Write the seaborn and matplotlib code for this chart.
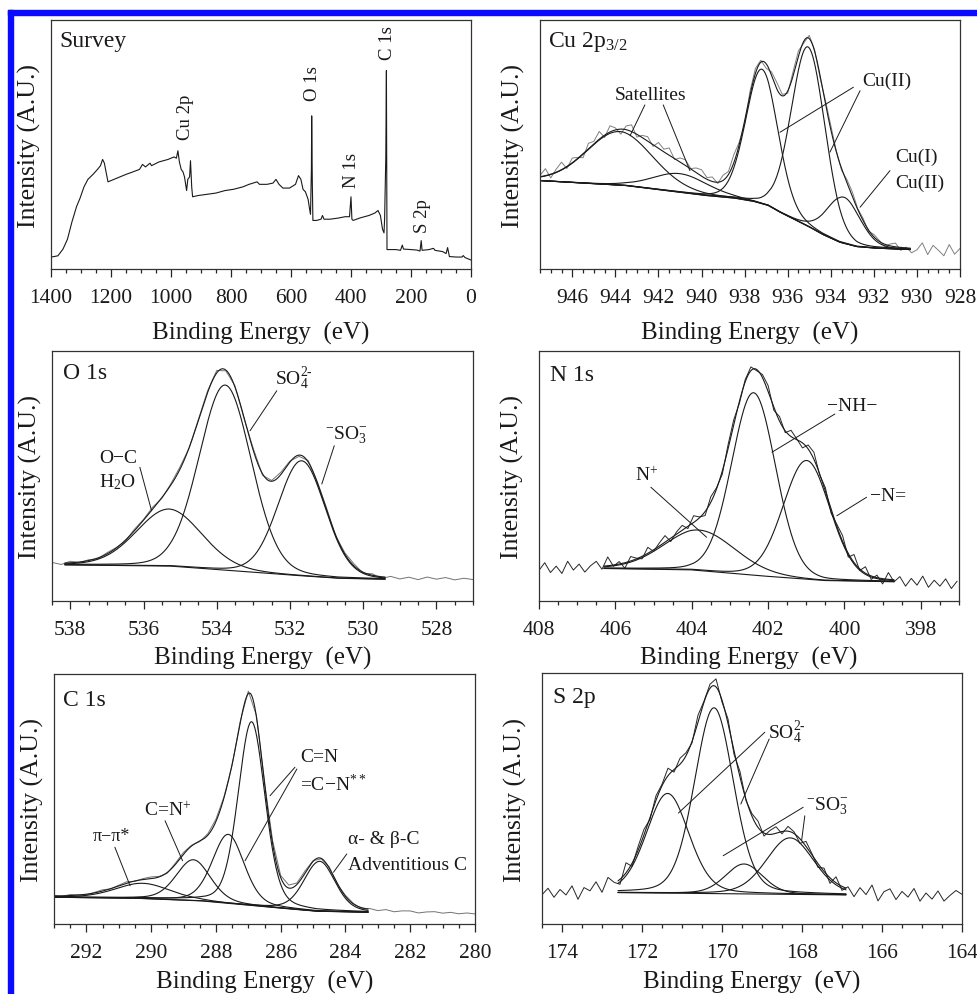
import numpy as np
import pandas as pd
import matplotlib
matplotlib.use("Agg")
import matplotlib.pyplot as plt
import seaborn as sns
from matplotlib.patches import Rectangle
from matplotlib.ticker import MultipleLocator

# ====================== DATA ======================
# --- Survey spectrum (binding energy eV, intensity in % of panel height)
survey_energy = [1400, 1390, 1377, 1360, 1345, 1330, 1315, 1303, 1290, 1277, 1260, 1245,
                 1235, 1228, 1222, 1215, 1210, 1190, 1170, 1150, 1127, 1105, 1095, 1085,
                 1070, 1065, 1040, 1010, 990, 982, 977, 972, 966, 960, 955, 948, 944, 938,
                 935, 931, 928, 910, 880, 850, 820, 792, 760, 740, 713, 705, 680, 660, 650,
                 640, 627, 605, 585, 575, 567, 560, 552, 543, 538, 535, 532, 531, 529, 527,
                 515, 500, 495, 490, 470, 440, 420, 405, 400, 397, 393, 370, 340, 320, 310,
                 302, 295, 290, 288, 284, 282, 280, 270, 250, 235, 229, 225, 200, 180, 170,
                 166, 163, 140, 125, 120, 95, 83, 78, 72, 50, 30, 26, 20, 0]
survey_intensity = [4.8, 5.0, 5.3, 8, 12, 19, 25, 28.5, 33, 36, 38, 40,
                    41.5, 44, 42.5, 38, 35, 36, 37, 38, 39, 40, 42, 41,
                    42.5, 41.5, 43, 44, 45, 44.5, 47.5, 43, 40, 39, 37, 31.5, 36, 37,
                    43.5, 33, 29, 29.5, 30, 30.5, 31.5, 32, 33, 34, 35, 34, 34, 34.5, 36,
                    34, 32.5, 32.5, 34, 37.5, 36, 32, 31, 28, 24, 22, 40, 61.5, 35, 19.5,
                    19.5, 20, 21.5, 20, 20, 20.5, 21, 21, 29, 20, 19.5, 20.5, 21.5, 22.5, 23.5,
                    21.5, 16, 14.5, 20, 45, 79.7, 7.8, 7.8, 7.8, 7.5, 9.6, 8, 7.8, 7.6, 7.2,
                    11.4, 7.5, 7.8, 8.3, 7.5, 7, 6.2, 8.6, 5, 4.8, 4.8, 5.4, 4.6, 3.6]
survey_labels = ["Cu 2p", "O 1s", "N 1s", "C 1s", "S 2p"]
survey_label_energy = [953, 527, 397, 280, 163]
survey_label_height = [61.4, 75, 39.8, 91.2, 21.7]

# --- Cu 2p3/2
cu_start, cu_step = 947.5, 0.25
cu_resid = [0.5, 2.8, -1.5, 1.2, 3.0, -0.8, 1.9, 0.4, -1.6, 2.2,
            1.0, 3.1, -0.9, 2.5, 0.8, -2.0, 1.5, 2.7, -1.1, 0.9,
            1.8, -0.6, 2.4, 1.1, 2.9, -0.4, 1.6, 2.3, 0.2, 1.9,
            2.6, 0.7, 1.8, -0.5, 2.1, 1.2, 3.2, 1.0, -1.2, 1.5,
            2.0, 0.8, -1.8, 1.4, 2.6, 0.6, -0.9, 1.7, 2.2, -0.7,
            1.3, 0.5, -1.0, 1.1, 1.6, 0.4, -0.8, 1.2, 1.8, 0.3,
            0.9, -0.6, 1.0, 0.4, -0.9, 0.7, 1.5, -1.2, 0.3, -1.8,
            -0.5, 2.4, -2.2, 1.6, -0.3, -2.4, 2.2, -1.6, 0.8]
cu_base_E = [947.5, 943.6, 939.9, 938.5, 937.6, 936.9, 936.4, 935.8, 935.1, 934.4,
             933.6, 932.8, 932.0, 930.3, 928.0]
cu_base_I = [35.5, 33.6, 29.6, 28.5, 27.2, 25.5, 23.0, 20.4, 17.4, 14.0,
             10.8, 9.0, 8.4, 7.8, 7.2]
cu_centers = [943.8, 941.0, 937.2, 935.05, 933.4]
cu_heights = [21.5, 7.5, 54.0, 72.0, 18.5]
cu_fwhm = [3.6, 3.0, 1.75, 1.85, 1.8]
cu_eta = 0.1
cu_fit = (947.5, 930.3)

# --- O 1s
o_start, o_step = 538.5, 0.25
o_resid = [0.4, -0.5, 0.6, -0.2, 0.3, -0.3, 0.5, 0.2, -0.4, 0.6,
           0.3, 0.8, -0.3, 0.5, 0.9, -0.2, 0.4, 0.7, 1.0, -0.3,
           0.5, -0.4, 0.8, -0.6, 0.3, 0.9, 0.4, -0.5, 0.6, 0.2,
           0.7, -0.3, 0.5, 0.8, -0.4, 0.6, -0.7, 0.4, -0.5, 0.3,
           -0.6, 0.5, -0.3, 0.4, -0.5, 0.2, -0.3]
o_base_E = [538.5, 535.3, 533.7, 532.0, 530.7, 529.4, 527.0]
o_base_I = [14.5, 14.0, 12.3, 10.4, 9.1, 8.7, 8.6]
o_centers = [535.3, 533.77, 531.68]
o_heights = [22.8, 74.0, 46.0]
o_fwhm = [2.1, 1.68, 1.52]
o_eta = 0.1
o_fit = (538.15, 529.4)

# --- N 1s
n_start, n_step = 408.0, 0.15
n_resid = [-0.5, 2.5, -1.5, 1.0, -2.0, 2.8, -0.8, 1.5, -1.8, 0.6,
           2.2, -1.2, 3.5, -0.5, 1.0, -2.2, 1.8, 0.3, -1.0, 2.4,
           -0.6, 1.2, 2.6, -1.4, 0.8, 1.9, -0.9, 2.7, 0.4, -1.6,
           2.2, 0.5, -1.3, 1.6, 2.0, -0.8, 0.9, 1.5, -0.5, 1.2,
           2.4, -1.2, 1.8, -0.7, 2.5, 0.3, -2.0, 1.6, 2.8, -0.4,
           1.4, -1.6, 0.8, 2.3, -1.5, 3.2, -0.6, 2.6, -1.4, 1.0,
           -2.1, 2.7, -0.8, 1.4, -2.3, 0.9, -1.7, 2.0, -2.4, 0.5,
           -1.8, 1.2, -2.6, 0.4]
n_base_E = [408.0, 406.3, 404.05, 402.3, 400.55, 398.7, 397.0]
n_base_I = [12.5, 13.0, 12.5, 10.2, 8.2, 7.7, 7.2]
n_centers = [403.8, 402.38, 400.99]
n_heights = [16.2, 73.0, 47.5]
n_fwhm = [2.2, 1.36, 1.45]
n_eta = 0.1
n_fit = (406.3, 398.7)

# --- C 1s
c_start, c_step = 293.0, 0.25
c_resid = [0.3, -0.2, 0.4, 0.1, -0.3, 0.2, 0.5, -0.1, 0.3, 0.6,
           -0.2, 0.4, 0.7, 0.2, -0.3, 0.5, 0.8, 0.3, -0.2, 0.6,
           0.9, 0.4, -0.4, 0.6, 1.0, 0.5, 0.2, 1.2, 0.8, 1.2,
           0.6, 0.9, 0.3, -0.2, 0.5, -0.3, 0.4, 0.2, -0.4, 0.3,
           -0.2, 0.4, -0.3, 0.2, 0.3, -0.4, 0.1, 0.3, -0.2, 0.2,
           -0.3, 0.1, -0.2]
c_base_E = [293.0, 290.5, 288.5, 286.4, 284.9, 283.3, 280.0]
c_base_I = [10.7, 10.3, 9.3, 6.8, 5.1, 4.7, 4.0]
c_centers = [290.25, 288.7, 287.62, 286.9, 284.8]
c_heights = [6.1, 16.3, 27.6, 73.5, 20.0]
c_fwhm = [2.0, 1.25, 1.15, 0.98, 1.13]
c_eta = 0.25
c_fit = (293.0, 283.3)

# --- S 2p
s_start, s_step = 174.5, 0.15
s_resid = [-1.0, 1.5, -2.2, 0.8, -1.5, 2.0, -3.5, 1.0, -0.5, 2.8,
           -1.8, 3.5, 0.5, -2.0, 4.0, -1.2, 1.5, 2.2, -0.8, 1.8,
           0.6, 3.0, -1.0, 2.4, 1.2, -0.6, 2.8, 0.4, 1.6, 3.2,
           -0.8, 1.8, -1.4, 2.2, -0.5, 1.0, 2.5, -1.2, 1.6, 2.6,
           -0.9, 1.9, 0.7, -1.8, 2.0, 0.5, -1.5, 1.3, -2.2, 2.4,
           -1.6, 0.8, -2.5, 1.5, -1.0, 3.0, -3.2, 0.6, 1.8, -2.4,
           0.9, -1.3, 2.2, -2.8, 0.5, -1.9, 1.4, -2.6, -0.3, 1.7, 0.2]
s_base_E = [174.5, 172.6, 170.0, 167.0, 164.0]
s_base_I = [12.0, 12.5, 12.1, 11.6, 11.3]
s_centers = [171.36, 170.2, 169.45, 168.3]
s_heights = [39.7, 74.0, 11.9, 22.5]
s_fwhm = [1.25, 1.15, 1.1, 1.4]
s_eta = 0.2
s_fit = (172.6, 166.9)

# ====================== STYLE ======================
sns.set_theme(style="white")
plt.rcParams["font.family"] = ["Liberation Serif", "DejaVu Serif"]
plt.rcParams["mathtext.fontset"] = "custom"
plt.rcParams["mathtext.rm"] = "Liberation Serif"
plt.rcParams["mathtext.it"] = "Liberation Serif:italic"
plt.rcParams["mathtext.bf"] = "Liberation Serif:bold"

TICK_FS = 15.5
LABEL_FS = 18
TITLE_FS = 17
ANN_FS = 14

fig = plt.figure(figsize=(9.77, 9.95), dpi=100)
W, H = 977.0, 995.0


def axes_px(left, top, right, bottom):
    return fig.add_axes([left / W, 1 - bottom / H, (right - left) / W, (bottom - top) / H])


ax_sv = axes_px(51, 21, 471, 270)
ax_cu = axes_px(540, 21, 960, 270)
ax_o = axes_px(52, 352, 473, 602)
ax_n = axes_px(539, 352, 959, 602)
ax_c = axes_px(54, 675, 475, 925)
ax_s = axes_px(542, 674, 962, 925)

# blue frame
fig.patches.append(Rectangle((8 / W, 0), 5 / W, (H - 11) / H, transform=fig.transFigure,
                             color="#0a0aff", zorder=10))
fig.patches.append(Rectangle((8 / W, (H - 16) / H), (W - 8) / W, 5 / H, transform=fig.transFigure,
                             color="#0a0aff", zorder=10))


def pv(x, c, h, w, eta):
    d2 = 4.0 * (x - c) ** 2 / w ** 2
    return h * ((1 - eta) * np.exp(-np.log(2) * d2) + eta / (1 + d2))


def line(ax, x, y, color="k", lw=0.8):
    sns.lineplot(x=np.asarray(x), y=np.asarray(y), ax=ax, color=color, lw=lw,
                 sort=False, estimator=None, legend=False)


def style_axes(ax, xlim, major, minor, title, tx, ty, xpad, ypad):
    ax.set_xlim(*xlim)
    ax.set_ylim(0, 100)
    ax.set_yticks([])
    ax.xaxis.set_major_locator(MultipleLocator(major))
    ax.xaxis.set_minor_locator(MultipleLocator(minor))
    ax.tick_params(axis="x", which="both", bottom=True, direction="out", color="0.15",
                   width=0.9, labelsize=TICK_FS, labelcolor="0.1")
    ax.tick_params(axis="x", which="major", length=6, pad=8)
    ax.tick_params(axis="x", which="minor", length=3)
    for sp in ax.spines.values():
        sp.set_visible(True)
        sp.set_color("0.2")
        sp.set_linewidth(0.9)
    ax.set_xlabel("Binding Energy  (eV)", fontsize=LABEL_FS, labelpad=xpad, color="0.1")
    ax.set_ylabel("Intensity (A.U.)", fontsize=LABEL_FS + 0.5, labelpad=ypad, color="0.1")
    ax.text(tx, ty, title, transform=ax.transAxes, fontsize=TITLE_FS, va="baseline",
            ha="left", color="0.1")


def draw_fit(ax, start, step, resid, bE, bI, centers, heights, fwhm, eta, fit, raw_color):
    E = start - step * np.arange(len(resid))
    bE_inc, bI_inc = np.asarray(bE)[::-1], np.asarray(bI)[::-1]
    base_raw = np.interp(E, bE_inc, bI_inc)
    model_raw = base_raw + sum(pv(E, c, h, w, eta) for c, h, w in zip(centers, heights, fwhm))
    line(ax, E, model_raw + np.asarray(resid), color=raw_color, lw=0.7)
    Ef = np.linspace(fit[0], fit[1], 600)
    bf = np.interp(Ef, bE_inc, bI_inc)
    comps = [pv(Ef, c, h, w, eta) for c, h, w in zip(centers, heights, fwhm)]
    line(ax, Ef, bf)
    for comp in comps:
        line(ax, Ef, bf + comp)
    line(ax, Ef, bf + np.sum(comps, axis=0))


def leaders(ax, segs):
    for (x1, y1, x2, y2) in segs:
        ax.plot([x1, x2], [y1, y2], color="k", lw=0.7)


def label(ax, x, y, s, ha="left", va="baseline", fs=ANN_FS, **kw):
    ax.text(x, y, s, ha=ha, va=va, fontsize=fs, color="0.1", **kw)


# ---------------- Survey ----------------
line(ax_sv, survey_energy, survey_intensity, color="0.1", lw=0.8)
style_axes(ax_sv, (1400, 0), 200, 50, "Survey", 0.021, 0.897, 9.5, 7)
for s, e, h in zip(survey_labels, survey_label_energy, survey_label_height):
    label(ax_sv, e, h, s, ha="center", va="center", rotation=90, fs=13.5)

# ---------------- Cu 2p ----------------
draw_fit(ax_cu, cu_start, cu_step, cu_resid, cu_base_E, cu_base_I, cu_centers, cu_heights,
         cu_fwhm, cu_eta, cu_fit, "0.5")
style_axes(ax_cu, (947.5, 928), 2, 0.5, "Cu 2p$_{3/2}$", 0.019, 0.897, 9.5, 10.5)
label(ax_cu, 942.35, 69.9, "Satellites", ha="center", va="center")
label(ax_cu, 931.4, 75.9, "Cu(II)", ha="center", va="center")
label(ax_cu, 931.0, 45.2, "Cu(I)", va="center")
label(ax_cu, 931.0, 34.9, "Cu(II)", va="center")
leaders(ax_cu, [(942.63, 65.9, 943.32, 53.5), (941.78, 65.9, 940.54, 39.5),
                (932.95, 73.0, 936.36, 54.9), (932.64, 71.6, 934.04, 46.9),
                (931.25, 39.5, 932.64, 24.8)])

# ---------------- O 1s ----------------
draw_fit(ax_o, o_start, o_step, o_resid, o_base_E, o_base_I, o_centers, o_heights,
         o_fwhm, o_eta, o_fit, "0.45")
style_axes(ax_o, (538.5, 527), 2, 0.5, "O 1s", 0.026, 0.891, 4.5, 7)
label(ax_o, 532.41, 86.8, "SO$_4^{2\u2010}$")
label(ax_o, 531.04, 64.8, "$^{-}$SO$_3^{-}$")
label(ax_o, 537.22, 55.7, "O\u2212C")
label(ax_o, 537.22, 45.7, "H$_2$O")
leaders(ax_o, [(532.36, 84.1, 533.09, 68.1), (530.79, 62.1, 531.13, 46.8),
               (536.1, 53.5, 535.78, 36.1)])

# ---------------- N 1s ----------------
draw_fit(ax_n, n_start, n_step, n_resid, n_base_E, n_base_I, n_centers, n_heights,
         n_fwhm, n_eta, n_fit, "0.15")
style_axes(ax_n, (408, 397), 2, 0.5, "N 1s", 0.026, 0.884, 4.5, 10.5)
label(ax_n, 405.49, 48.5, "N$^{+}$")
label(ax_n, 400.46, 76.4, "\u2212NH\u2212")
label(ax_n, 399.33, 40.5, "\u2212N=")
leaders(ax_n, [(405.07, 45.5, 403.61, 25.5), (400.25, 74.8, 401.9, 59.5),
               (399.42, 41.5, 400.2, 34.1)])

# ---------------- C 1s ----------------
draw_fit(ax_c, c_start, c_step, c_resid, c_base_E, c_base_I, c_centers, c_heights,
         c_fwhm, c_eta, c_fit, "0.45")
style_axes(ax_c, (293, 280), 2, 0.5, "C 1s", 0.021, 0.877, 5.5, 7)
label(ax_c, 291.24, 33.7, "\u03c0\u2212\u03c0*", ha="center", fs=13)
label(ax_c, 290.22, 43.7, "C=N$^{+}$")
label(ax_c, 285.4, 65.1, "C=N")
label(ax_c, 285.4, 53.6, "=C\u2212N$^{**}$")
label(ax_c, 283.92, 32.4, "\u03b1- & \u03b2-C")
label(ax_c, 283.92, 22.0, "Adventitious C")
leaders(ax_c, [(291.12, 30.7, 290.65, 15.3), (289.57, 41.3, 289.03, 25.3),
               (285.56, 62.7, 286.33, 51.3), (285.5, 62.0, 287.1, 25.3),
               (283.96, 28.0, 284.37, 20.7)])

# ---------------- S 2p ----------------
draw_fit(ax_s, s_start, s_step, s_resid, s_base_E, s_base_I, s_centers, s_heights,
         s_fwhm, s_eta, s_fit, "0.15")
style_axes(ax_s, (174.5, 164), 2, 0.5, "S 2p", 0.026, 0.886, 5.5, 10.5)
label(ax_s, 168.85, 74.4, "SO$_4^{2\u2010}$")
label(ax_s, 167.9, 45.8, "$^{-}$SO$_3^{-}$")
leaders(ax_s, [(168.93, 76.4, 171.09, 44.2), (168.82, 73.7, 169.53, 47.8),
               (167.97, 46.5, 169.97, 27.2), (167.93, 43.1, 168.01, 33.2)])

fig.savefig("out.png", dpi=100)
